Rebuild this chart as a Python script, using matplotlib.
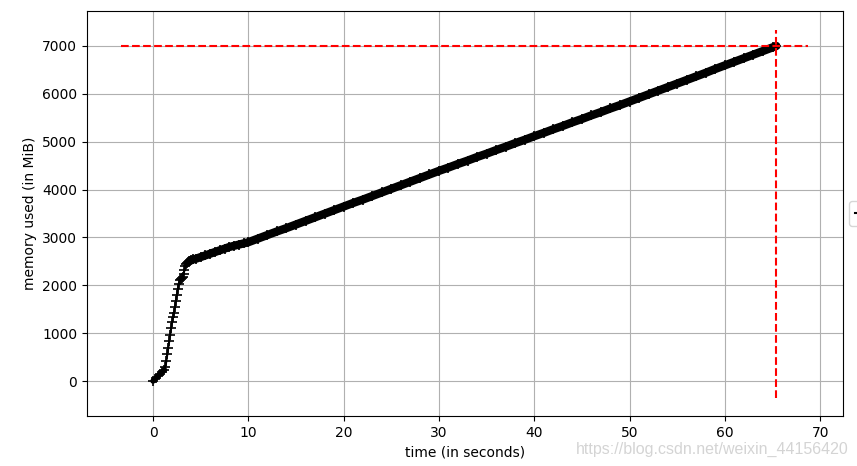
import matplotlib
matplotlib.use('Agg')
import matplotlib.pyplot as plt

# memory samples (seconds, MiB)
t = [0.0, 0.3, 0.6, 0.9, 1.2, 1.3, 1.4, 1.5, 1.6, 1.7, 1.8, 1.9, 2.0, 2.1, 2.2,
     2.3, 2.4, 2.5, 2.6, 2.7, 2.8, 2.9, 3.0, 3.1, 3.2, 3.3, 3.4, 3.5, 3.6, 3.7,
     3.8, 3.9, 4.0, 4.2, 4.5, 5, 5.5, 6, 6.5, 7, 7.5, 8, 8.5, 9, 9.5,
     10, 11, 12, 13, 14, 15, 16, 17, 18, 19, 20, 21, 22, 23, 24, 25, 26, 27,
     28, 29, 30, 31, 32, 33, 34, 35, 36, 37, 38, 39, 40, 41, 42, 43, 44, 45,
     46, 47, 48, 49, 50, 51, 52, 53, 54, 55, 56, 57, 58, 59, 60, 61, 62, 63,
     64, 65, 65.4]
mem = [0, 60, 120, 180, 230, 290, 420, 560, 700, 830, 960, 1100, 1230, 1330, 1430,
       1550, 1680, 1800, 1920, 2030, 2110, 2130, 2150, 2170, 2230, 2320, 2400, 2440, 2470, 2490,
       2500, 2510, 2520, 2540, 2555, 2590, 2625, 2660, 2695, 2730, 2765, 2800, 2825, 2850, 2875,
       2900, 2975, 3050, 3125, 3195, 3270, 3345, 3420, 3495, 3570, 3645, 3720, 3790, 3865, 3940,
       4015, 4090, 4165, 4240, 4315, 4390, 4460, 4535, 4605, 4680, 4750, 4825, 4895, 4970, 5040,
       5115, 5185, 5260, 5330, 5405, 5475, 5550, 5620, 5695, 5765, 5840, 5915, 5990, 6065, 6140,
       6215, 6290, 6365, 6440, 6520, 6595, 6670, 6745, 6820, 6895, 6970, 7000]

max_mem = 7000
max_t = 65.4

fig = plt.figure(figsize=(8.57, 4.66), dpi=100)
ax = fig.add_axes([0.1015, 0.1073, 0.8822, 0.8691])

# dense sampling in the steady part shows up as a thick band
start = t.index(4.0)
ax.plot(t[start:], mem[start:], '-', color='k', linewidth=6, solid_capstyle='round')
ax.plot(t[:5], mem[:5], '-', color='k', linewidth=4, solid_capstyle='round')
line, = ax.plot(t, mem, '+-', color='k', linewidth=1.5, markersize=7, markeredgewidth=1.2)
ax.hlines(max_mem, -3.36, 68.7, colors='r', linestyles='--', linewidth=1.5)
ax.vlines(max_t, -355, 7334, colors='r', linestyles='--', linewidth=1.5)

ax.set_xlim(-6.93, 72.4)
ax.set_ylim(-731, 7731)
ax.set_xticks([0, 10, 20, 30, 40, 50, 60, 70])
ax.set_yticks([0, 1000, 2000, 3000, 4000, 5000, 6000, 7000])
ax.grid(True)
ax.set_axisbelow(True)
ax.set_xlabel('time (in seconds)')
ax.set_ylabel('memory used (in MiB)')
ax.legend([line], [' '], loc='center left', bbox_to_anchor=(1.008, 0.5), borderaxespad=0)

fig.text(0.99, 0.035, 'https://blog.csdn.net/weixin_44156420', color='#d4d4d4',
         fontsize=11.5, family='Liberation Sans', ha='right', va='center')

fig.savefig('out.png', dpi=100)
